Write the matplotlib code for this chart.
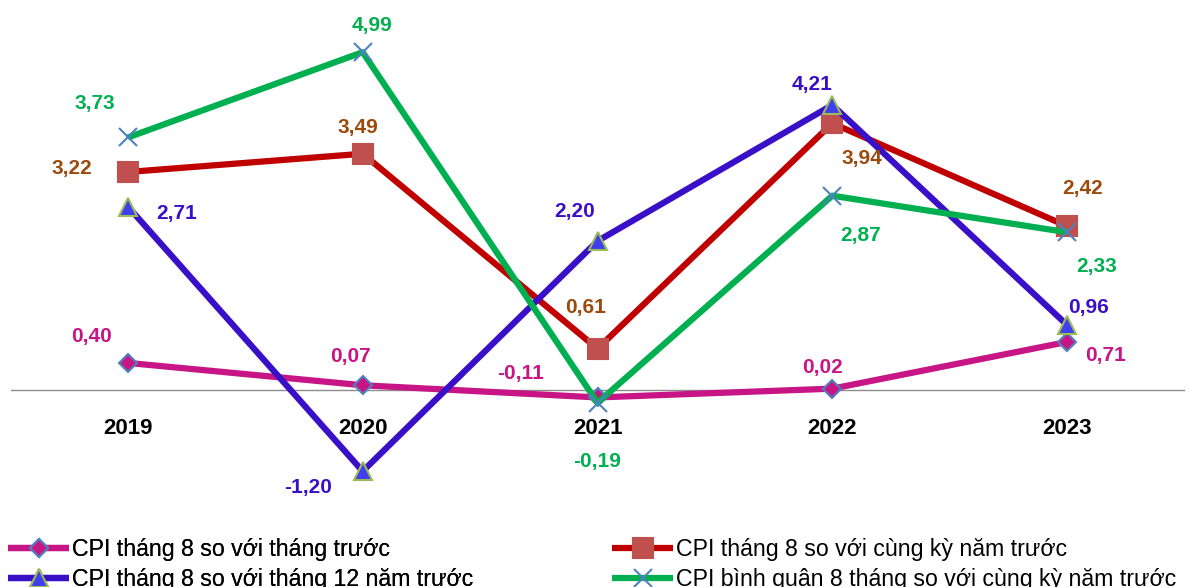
import matplotlib
matplotlib.use("Agg")
import matplotlib.pyplot as plt

plt.rcParams["font.family"] = ["Liberation Sans", "DejaVu Sans"]

# -------------------------------------------------
# Data
# -------------------------------------------------
years = ["2019", "2020", "2021", "2022", "2023"]
cpi_mom = [0.40, 0.07, -0.11, 0.02, 0.71]
cpi_yoy = [3.22, 3.49, 0.61, 3.94, 2.42]
cpi_ytd = [2.71, -1.20, 2.20, 4.21, 0.96]
cpi_avg8 = [3.73, 4.99, -0.19, 2.87, 2.33]

labels = [
    "CPI tháng 8 so với tháng trước",
    "CPI tháng 8 so với cùng kỳ năm trước",
    "CPI tháng 8 so với tháng 12 năm trước",
    "CPI bình quân 8 tháng so với cùng kỳ năm trước",
]

# label offsets in pixels (dx, dy) for each point
off_mom = [(-36, 26), (-12, 29), (-77, 24), (-10, 21), (38, -14)]
off_yoy = [(-56, 4), (-5, 26), (-12, 41), (30, -35), (16, 38)]
off_ytd = [(49, -7), (-55, -16), (-23, 30), (-20, 20), (21, 18)]
off_avg = [(-33, 34), (9, 27), (0, -59), (28, -40), (30, -34)]

W, H = 1195, 587
fig = plt.figure(figsize=(W / 100, H / 100), dpi=100)

# plot area in pixels: x 10.5..1184.5, zero line at y=390, 67.7 px per unit
px_unit = 67.7
ax_top, ax_bot = 0, 520
ax = fig.add_axes([10.5 / W, 1 - ax_bot / H, 1174 / W, (ax_bot - ax_top) / H])
ax.set_xlim(-0.5, 4.5)
ax.set_ylim(-(ax_bot - 390) / px_unit, 390 / px_unit)
ax.axis("off")
ax.axhline(0, color="#8c8c8c", lw=1.0, zorder=1)

x = list(range(len(years)))

series = [
    dict(y=cpi_mom, color="#C71585", marker="D", ms=9, mfc="#C71585", mec="#4F81BD",
         tcolor="#C71585", off=off_mom, label=labels[0]),
    dict(y=cpi_yoy, color="#C00000", marker="s", ms=14, mfc="#C0504D", mec="#C0504D",
         tcolor="#9C4A0C", off=off_yoy, label=labels[1]),
    dict(y=cpi_ytd, color="#3A0FC8", marker="^", ms=13, mfc="#3F3FF0", mec="#9BBB59",
         tcolor="#3A0FC8", off=off_ytd, label=labels[2]),
    dict(y=cpi_avg8, color="#00B050", marker="x", ms=13, mfc="#4F81BD", mec="#4F81BD",
         tcolor="#00B050", off=off_avg, label=labels[3]),
]

handles = []
for k, s in enumerate(series):
    ln, = ax.plot(x, s["y"], color=s["color"], lw=4.5, marker=s["marker"],
                  ms=s["ms"], mfc=s["mfc"], mec=s["mec"], mew=1.5,
                  zorder=3 + k, solid_capstyle="butt", clip_on=False)
    handles.append(ln)
    for xi, yi, (dx, dy) in zip(x, s["y"], s["off"]):
        ax.annotate(f"{yi:.2f}".replace(".", ","), (xi, yi),
                    xytext=(dx, dy), textcoords="offset pixels",
                    ha="center", va="center", fontsize=15,
                    fontweight="bold", color=s["tcolor"], zorder=10)

# year labels below the zero line
for xi, yr in zip(x, years):
    ax.annotate(yr, (xi, 0), xytext=(0, -38), textcoords="offset pixels",
                ha="center", va="center", fontsize=16, fontweight="bold",
                color="black")

# -------------------------------------------------
# Legend: two columns placed by hand
# -------------------------------------------------
leg_kw = dict(frameon=False, fontsize=16.7, handlelength=2.65, handletextpad=0.1,
              labelspacing=0.3, borderaxespad=0, borderpad=0, loc="upper left")
leg1 = fig.legend([handles[0], handles[2]], [labels[0], labels[2]],
                  bbox_to_anchor=(8 / W, 1 - 538 / H), **leg_kw)
fig.add_artist(leg1)
fig.legend([handles[1], handles[3]], [labels[1], labels[3]],
           bbox_to_anchor=(612 / W, 1 - 538 / H), **leg_kw)

fig.savefig("out.png", dpi=100, facecolor="white")
